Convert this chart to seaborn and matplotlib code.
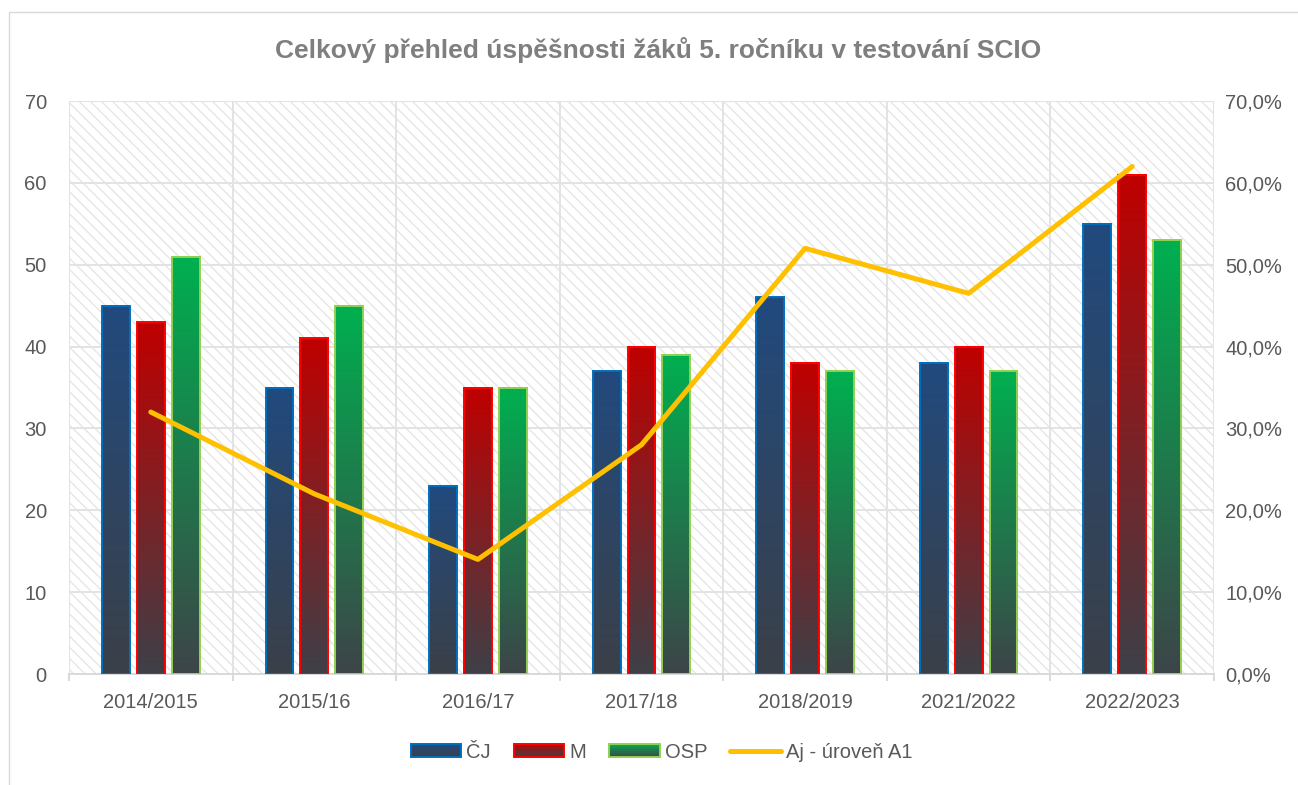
import numpy as np
import pandas as pd
import matplotlib
matplotlib.use("Agg")
import matplotlib.pyplot as plt
import seaborn as sns
from matplotlib.patches import Rectangle, Patch
from matplotlib.lines import Line2D
from matplotlib.legend_handler import HandlerBase
from matplotlib.colors import to_rgb
from matplotlib.ticker import FuncFormatter, FixedLocator, MultipleLocator

# ---------------- data ----------------
categories = ["2014/2015", "2015/16", "2016/17", "2017/18", "2018/2019", "2021/2022", "2022/2023"]
series_names = ["ČJ", "M", "OSP"]
cj_values = [45, 35, 23, 37, 46, 38, 55]
m_values = [43, 41, 35, 40, 38, 40, 61]
osp_values = [51, 45, 35, 39, 37, 37, 53]
line_name = "Aj - úroveň A1"
aj_values = [0.32, 0.22, 0.14, 0.28, 0.52, 0.465, 0.62]
title = "Celkový přehled úspěšnosti žáků 5. ročníku v testování SCIO"

# ---------------- style ----------------
FONT = ["Liberation Sans Narrow", "Liberation Sans", "DejaVu Sans"]
plt.rcParams["font.family"] = FONT
plt.rcParams["hatch.linewidth"] = 1.0
plt.rcParams["hatch.color"] = "#e6e6e6"
TXT = "#595959"
GRID = "#e1e3e6"
FS = 14.5

top_colors = {"ČJ": "#214a7e", "M": "#c00000", "OSP": "#00b050"}
bottom_colors = {"ČJ": "#3b4048", "M": "#3e4048", "OSP": "#3d4448"}
edge_colors = {"ČJ": "#0070c0", "M": "#ff0000", "OSP": "#92d050"}
line_color = "#ffc000"

df = pd.DataFrame({
    "year": categories * 3,
    "series": [s for s in series_names for _ in categories],
    "value": cj_values + m_values + osp_values,
})

fig = plt.figure(figsize=(12.98, 7.85), dpi=100)
ax = fig.add_axes([69 / 1298, 1 - 674 / 785, (1214 - 69) / 1298, (674 - 101) / 785])

# hatched background of plot area
ax.add_patch(Rectangle((0, 0), 1, 1, transform=ax.transAxes, facecolor="white",
                       edgecolor="#e6e6e6", hatch="\\\\\\", lw=0, zorder=0.1))

sns.barplot(data=df, x="year", y="value", hue="series", hue_order=series_names,
            order=categories, width=0.64, gap=0.2, ax=ax, legend=False,
            palette=[top_colors[s] for s in series_names], errorbar=None)


def gradient(top, bottom, n=256):
    t = np.linspace(0, 1, n)[:, None]
    a = np.array(to_rgb(top))[None, :]
    b = np.array(to_rgb(bottom))[None, :]
    return (a * (1 - t) + b * t)[:, None, :]


for name, cont in zip(series_names, ax.containers):
    grad = gradient(top_colors[name], bottom_colors[name])
    for p in cont.patches:
        x, w, h = p.get_x(), p.get_width(), p.get_height()
        ax.imshow(grad, extent=[x, x + w, 0, h], origin="upper", aspect="auto",
                  interpolation="bilinear", zorder=2.5)
        p.set_facecolor("none")
        p.set_edgecolor(edge_colors[name])
        p.set_linewidth(1.4)
        p.set_zorder(3)

ax.set_xlim(-0.5, len(categories) - 0.5)
ax.set_ylim(0, 70)
ax.yaxis.set_major_locator(MultipleLocator(10))
ax.set_xlabel("")
ax.set_ylabel("")
ax.set_axisbelow(True)
ax.grid(axis="y", which="major", color=GRID, lw=1.4, zorder=0.5)
ax.xaxis.set_minor_locator(FixedLocator(np.arange(-0.5, len(categories), 1.0)))
ax.grid(axis="x", which="minor", color=GRID, lw=1.4, zorder=0.5)
ax.grid(axis="x", which="major", visible=False)
for s in ["top", "right", "left"]:
    ax.spines[s].set_visible(False)
ax.spines["bottom"].set_color("#d9d9d9")
ax.spines["bottom"].set_linewidth(1.4)
ax.tick_params(axis="x", which="major", length=0, pad=14, labelsize=FS, labelcolor=TXT)
ax.tick_params(axis="x", which="minor", length=5, width=1.4, color="#d9d9d9")
ax.tick_params(axis="y", length=0, pad=16, labelsize=FS, labelcolor=TXT)
ax.patch.set_facecolor("white")

# secondary axis line
ax2 = ax.twinx()
sns.pointplot(x=categories, y=aj_values, ax=ax2, color=line_color, markers="",
              linewidth=3.6, errorbar=None)
for ln in ax2.lines:
    ln.set_solid_capstyle("round")
    ln.set_solid_joinstyle("round")
ax2.set_ylim(0, 0.7)
ax2.yaxis.set_major_locator(MultipleLocator(0.1))
ax2.yaxis.set_major_formatter(FuncFormatter(lambda v, _: f"{v * 100:.1f}%".replace(".", ",")))
ax2.tick_params(axis="y", length=0, pad=8, labelsize=FS, labelcolor=TXT)
ax2.set_ylabel("")
for s in ax2.spines.values():
    s.set_visible(False)
ax2.grid(False)
ax.set_xlim(-0.5, len(categories) - 0.5)

# title
fig.text(0.507, 1 - 50 / 785, title, ha="center", va="center", fontsize=19,
         fontweight="bold", color="#7f7f7f")

# outer chart border
fig.patches.append(Rectangle((9 / 1298, -0.02), 1.05, 1 - 12 / 785 + 0.02,
                             transform=fig.transFigure, fill=False,
                             edgecolor="#d9d9d9", lw=1.0, zorder=0))


# legend with gradient swatches
class GradHandler(HandlerBase):
    def __init__(self, top, bottom, edge):
        super().__init__()
        self.top, self.bottom, self.edge = top, bottom, edge

    def create_artists(self, legend, orig_handle, xdescent, ydescent, width, height,
                       fontsize, trans):
        arts = []
        n = 12
        a = np.array(to_rgb(self.top))
        b = np.array(to_rgb(self.bottom))
        for i in range(n):
            t = (i + 0.5) / n
            c = a * (1 - t) + b * t
            y0 = -ydescent + height * (1 - (i + 1) / n)
            arts.append(Rectangle((-xdescent, y0), width, height / n + 0.05,
                                  facecolor=c, edgecolor="none", transform=trans))
        arts.append(Rectangle((-xdescent, -ydescent), width, height, facecolor="none",
                              edgecolor=self.edge, lw=1.4, transform=trans))
        return arts


handles = []
hmap = {}
for name in series_names:
    h = Patch(label=name)
    hmap[h] = GradHandler(top_colors[name], bottom_colors[name], edge_colors[name])
    handles.append(h)
handles.append(Line2D([], [], color=line_color, lw=3.6, solid_capstyle="round", label=line_name))

leg = fig.legend(handles=handles, handler_map=hmap, loc="center",
                 bbox_to_anchor=(0.5096, 1 - 752 / 785), ncol=4, frameon=False,
                 fontsize=FS, handlelength=2.5, handleheight=0.65,
                 handletextpad=0.25, columnspacing=1.15, labelcolor=TXT)

fig.savefig("out.png", dpi=100)
